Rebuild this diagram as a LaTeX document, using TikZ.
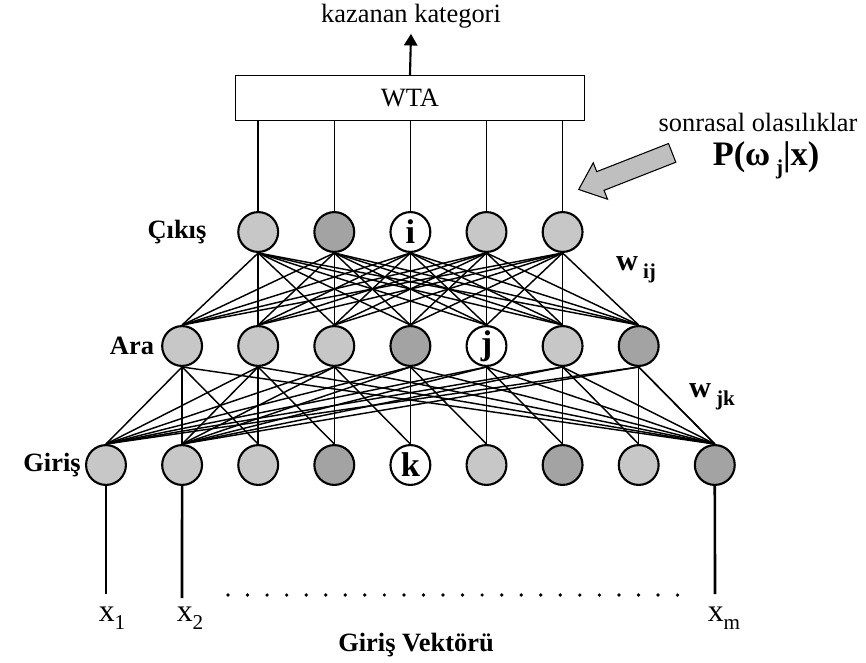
\documentclass[tikz,border=0pt]{standalone}
\usepackage{fontspec}
\setmainfont{Liberation Serif}
\usetikzlibrary{arrows.meta,shapes.arrows}
\newcommand\lowsub[1]{\raisebox{-0.55ex}{\footnotesize #1}}
\tikzset{
  neuron/.style={draw=black, line width=0.8pt, circle, minimum size=5.3mm, inner sep=0pt, fill=black!22},
  darkneuron/.style={neuron, fill=black!36},
  marked/.style={neuron, fill=white, font=\fontsize{13}{13}\selectfont\bfseries},
  link/.style={draw=black, line width=0.55pt},
  feed/.style={draw=black, line width=1pt},
  wtabox/.style={draw=black, line width=0.5pt, rectangle, minimum width=4.65cm, minimum height=6mm},
  winarrow/.style={draw=black, line width=0.8pt, -{Triangle[length=4.4pt, width=5pt]}},
  postarrow/.style={single arrow, draw=black, line width=0.4pt, fill=black!25, inner sep=3.6pt,
    minimum height=38pt, single arrow head extend=3.6pt, single arrow tip angle=80},
  layer/.style={font=\fontsize{10}{12}\selectfont\bfseries},
  weight/.style={font=\fontsize{11.5}{12}\selectfont\bfseries},
  small/.style={font=\fontsize{10}{12}\selectfont}
}
\begin{document}
\begin{tikzpicture}[x=0.0133cm, y=-0.0133cm]
  \useasboundingbox (0,0) rectangle (866,662);

  % neurons of the three layers
  \foreach \k/\st/\txt in {1/neuron/,2/neuron/,3/neuron/,4/darkneuron/,5/marked/k,6/neuron/,7/darkneuron/,8/neuron/,9/darkneuron/}
    \node[\st] (in\k) at ({106+76.1*(\k-1)},465) {\txt};
  \foreach \h/\st/\txt in {1/neuron/,2/neuron/,3/neuron/,4/darkneuron/,5/marked/j,6/neuron/,7/darkneuron/}
    \node[\st] (hid\h) at ({106+76.1*\h},346) {\txt};
  \foreach \o/\st/\txt in {1/neuron/,2/darkneuron/,3/marked/i,4/neuron/,5/neuron/}
    \node[\st] (out\o) at ({106+76.1*(\o+1)},232) {\txt};

  \node[wtabox, small] (wta) at (410,98) {WTA};
  \node[small, inner sep=2pt] (kazanan) at (411,16) {kazanan kategori};

  % weights
  \foreach \o in {1,...,5}
    \foreach \h in {1,...,7}
      \draw[link] (out\o.south) -- (hid\h.north);
  \foreach \h in {1,...,7} {
    \pgfmathtruncatemacro\na{\h+1}
    \pgfmathtruncatemacro\nb{\h+2}
    \foreach \k in {1,2,\na,\nb,9}
      \draw[link] (hid\h.south) -- (in\k.north);
  }
  \foreach \o in {1,...,5}
    \draw[link] (out\o.north) -- (out\o.north |- wta.south);
  \draw[winarrow] (wta.north) -- (kazanan.south);

  % posterior probabilities
  \node[small] (sonrasal) at (758,122) {sonrasal olasılıklar};
  \node[font=\fontsize{13}{14}\selectfont\bfseries] (post) at (766,160) {P(ω\,\lowsub{j}|x)};
  \node[postarrow, rotate=201.4] (ptr) at (631,169) {};

  % layer names
  \node[layer] (cikis) at (177,232) {Çıkış};
  \node[layer] (ara) at (132,346) {Ara};
  \node[layer] (giris) at (52,465) {Giriş};
  \node[weight] (wij) at (636,270) {w\,\lowsub{ij}};
  \node[weight] (wjk) at (712,397) {w\,\lowsub{jk}};

  % input vector
  \coordinate (end1) at (106,594);
  \coordinate (end2) at (182,598);
  \coordinate (endm) at (715,594);
  \draw[feed] (in1.south) -- (end1);
  \draw[feed] (in2.south) -- (end2);
  \draw[feed] (in9.south) -- (endm);
  \coordinate (dotsL) at (228,595);
  \coordinate (dotsR) at (697,595);
  \draw[line width=1.4pt, line cap=round, dash pattern=on 0pt off 7.4pt] (dotsL) -- (dotsR);
  \node[font=\fontsize{12}{12}\selectfont] (x1) at (112,618) {x\lowsub{1}};
  \node[font=\fontsize{12}{12}\selectfont] (x2) at (190,618) {x\lowsub{2}};
  \node[font=\fontsize{12}{12}\selectfont] (xm) at (724,618) {x\lowsub{m}};
  \node[layer] (vektor) at (416,645) {Giriş Vektörü};
\end{tikzpicture}
\end{document}
